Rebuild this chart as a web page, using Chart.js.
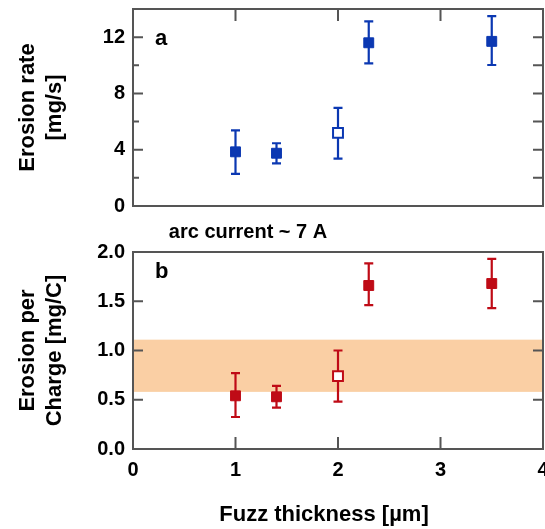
<!DOCTYPE html>
<html>
<head>
<meta charset="utf-8">
<script src="https://cdn.jsdelivr.net/npm/chart.js@4.4.0/dist/chart.umd.min.js"></script>
<style>
  html, body { margin: 0; padding: 0; background: #fff; overflow: hidden; }
  #wrap { position: relative; width: 545px; height: 529px; overflow: hidden; }
  #wrap canvas { position: absolute; left: 0; }
</style>
</head>
<body>
<div id="wrap">
  <canvas id="rateChart" width="552" height="240" style="top:0"></canvas>
  <canvas id="chargeChart" width="552" height="289" style="top:240px"></canvas>
</div>
<script>
// data
const fuzzThickness = [1.0, 1.4, 2.0, 2.3, 3.5];
const openMarker = [false, false, true, false, false];

const erosionRate = [3.85, 3.75, 5.2, 11.6, 11.7];
const erosionRateLow = [2.28, 3.03, 3.36, 10.14, 10.02];
const erosionRateHigh = [5.37, 4.46, 6.97, 13.12, 13.5];

const perCharge = [0.54, 0.53, 0.74, 1.66, 1.68];
const perChargeLow = [0.325, 0.42, 0.48, 1.46, 1.43];
const perChargeHigh = [0.77, 0.64, 1.0, 1.885, 1.93];

const chargeBand = [0.58, 1.11];

const xTicks = [0, 1, 2, 3, 4];
const rateTicks = [0, 2, 4, 6, 8, 10, 12];
const chargeTicks = [0, 0.5, 1.0, 1.5, 2.0];

const FONT = 'Liberation Sans, Arial, Helvetica, sans-serif';
const BLUE = '#0b38b2';
const RED = '#bf0b16';
const FRAME = '#555';

const tickFont = { family: FONT, size: 20, weight: 'bold', lineHeight: 1.2 };
const titleFont = { family: FONT, size: 22, weight: 'bold', lineHeight: 1.23 };

// frame, inward ticks, error bars, shaded band, labels
const decorations = {
  id: 'decorations',
  beforeDatasetsDraw(chart, args, opts) {
    const { ctx, chartArea: a, scales: { x, y } } = chart;
    ctx.save();
    if (opts.band) {
      const yTop = y.getPixelForValue(opts.band[1]);
      const yBot = y.getPixelForValue(opts.band[0]);
      ctx.fillStyle = 'rgb(250, 207, 164)';
      ctx.fillRect(a.left, yTop, a.right - a.left, yBot - yTop);
    }
    ctx.strokeStyle = opts.color;
    ctx.lineWidth = 2.2;
    opts.low.forEach((lo, i) => {
      const px = x.getPixelForValue(fuzzThickness[i]);
      const p1 = y.getPixelForValue(lo);
      const p2 = y.getPixelForValue(opts.high[i]);
      ctx.beginPath();
      ctx.moveTo(px, p1); ctx.lineTo(px, p2);
      ctx.moveTo(px - 4.5, p1); ctx.lineTo(px + 4.5, p1);
      ctx.moveTo(px - 4.5, p2); ctx.lineTo(px + 4.5, p2);
      ctx.stroke();
    });
    ctx.restore();
  },
  afterDraw(chart, args, opts) {
    const { ctx, chartArea: a, scales: { x, y } } = chart;
    ctx.save();
    ctx.strokeStyle = FRAME;
    ctx.lineWidth = 2;
    ctx.strokeRect(a.left, a.top, a.right - a.left, a.bottom - a.top);
    ctx.beginPath();
    opts.leftTicks.forEach(t => {
      const py = y.getPixelForValue(t[0]);
      ctx.moveTo(a.left, py); ctx.lineTo(a.left + t[1], py);
    });
    opts.rightTicks.forEach(v => {
      const py = y.getPixelForValue(v);
      ctx.moveTo(a.right, py); ctx.lineTo(a.right - 10, py);
    });
    opts.xTicks.forEach(v => {
      const px = x.getPixelForValue(v);
      if (opts.xTicksTop) { ctx.moveTo(px, a.top); ctx.lineTo(px, a.top + 12); }
      else { ctx.moveTo(px, a.bottom); ctx.lineTo(px, a.bottom - 12); }
    });
    ctx.stroke();

    ctx.fillStyle = '#000';
    ctx.textBaseline = 'alphabetic';
    ctx.textAlign = 'left';
    ctx.font = 'bold 22px ' + FONT;
    ctx.fillText(opts.letter, a.left + 22, a.top + opts.letterDy);
    if (opts.note) {
      ctx.textAlign = 'center';
      ctx.textBaseline = 'middle';
      ctx.font = 'bold 20px ' + FONT;
      ctx.fillText(opts.note, 248, 232);
    }
    if (opts.xTitle) {
      ctx.textAlign = 'center';
      ctx.textBaseline = 'middle';
      ctx.font = 'bold 22px ' + FONT;
      ctx.fillText(opts.xTitle, 324, 275);
    }
    ctx.restore();
  }
};

function markerData(values) {
  return {
    datasets: [{
      data: fuzzThickness.map((x, i) => ({ x: x, y: values[i] })),
      pointStyle: 'rect',
      pointRadius: 7,
      pointHoverRadius: 7,
      showLine: false
    }]
  };
}

function styleMarkers(ds, color) {
  ds.pointBorderColor = color;
  ds.pointBackgroundColor = openMarker.map(o => o ? '#fff' : color);
  ds.pointBorderWidth = openMarker.map(o => o ? 2 : 1);
}

function fixY(s) {
  s.width = 133;
  s.paddingTop = 0;
  s.paddingBottom = 0;
}

const rateData = markerData(erosionRate);
styleMarkers(rateData.datasets[0], BLUE);

new Chart(document.getElementById('rateChart'), {
  type: 'scatter',
  data: rateData,
  options: {
    animation: false,
    responsive: false,
    layout: { padding: { top: 9, right: 8, bottom: 34, left: 0 } },
    plugins: {
      legend: { display: false },
      tooltip: { enabled: false },
      decorations: {
        color: BLUE,
        low: erosionRateLow,
        high: erosionRateHigh,
        leftTicks: [[2, 6], [4, 10], [6, 6], [8, 10], [10, 6], [12, 10]],
        rightTicks: [2, 4, 6, 8, 10, 12],
        xTicks: [1, 2, 3],
        xTicksTop: true,
        letter: 'a',
        letterDy: 36,
        note: 'arc current ~ 7 A'
      }
    },
    scales: {
      x: { type: 'linear', min: 0, max: 4, display: false },
      y: {
        type: 'linear', min: 0, max: 14,
        afterBuildTicks: s => { s.ticks = rateTicks.map(v => ({ value: v })); },
        ticks: {
          color: '#000', font: tickFont, padding: 8,
          callback: v => (v % 4 === 0 ? String(v) : '')
        },
        grid: { display: false, drawTicks: false },
        border: { display: false },
        title: {
          display: true, text: ['Erosion rate', '[mg/s]'], color: '#000',
          font: titleFont, padding: { top: 14.5, bottom: 0 }
        },
        afterFit: fixY
      }
    }
  },
  plugins: [decorations]
});

const chargeData = markerData(perCharge);
styleMarkers(chargeData.datasets[0], RED);

new Chart(document.getElementById('chargeChart'), {
  type: 'scatter',
  data: chargeData,
  options: {
    animation: false,
    responsive: false,
    layout: { padding: { top: 12, right: 8, bottom: 0, left: 0 } },
    plugins: {
      legend: { display: false },
      tooltip: { enabled: false },
      decorations: {
        color: RED,
        low: perChargeLow,
        high: perChargeHigh,
        band: chargeBand,
        leftTicks: [[0.5, 10], [1.0, 10], [1.5, 10]],
        rightTicks: [0.5, 1.0, 1.5],
        xTicks: [1, 2, 3],
        xTicksTop: false,
        letter: 'b',
        letterDy: 26,
        xTitle: 'Fuzz thickness [µm]'
      }
    },
    scales: {
      x: {
        type: 'linear', min: 0, max: 4,
        afterBuildTicks: s => { s.ticks = xTicks.map(v => ({ value: v })); },
        ticks: { color: '#000', font: tickFont, padding: 9, maxRotation: 0 },
        grid: { display: false, drawTicks: false },
        border: { display: false },
        afterFit: s => { s.height = 80; s.paddingLeft = 0; s.paddingRight = 0; }
      },
      y: {
        type: 'linear', min: 0, max: 2,
        afterBuildTicks: s => { s.ticks = chargeTicks.map(v => ({ value: v })); },
        ticks: {
          color: '#000', font: tickFont, padding: 8,
          callback: v => v.toFixed(1)
        },
        grid: { display: false, drawTicks: false },
        border: { display: false },
        title: {
          display: true, text: ['Erosion per', 'Charge [mg/C]'], color: '#000',
          font: titleFont, padding: { top: 14.5, bottom: 0 }
        },
        afterFit: fixY
      }
    }
  },
  plugins: [decorations]
});
</script>
</body>
</html>
